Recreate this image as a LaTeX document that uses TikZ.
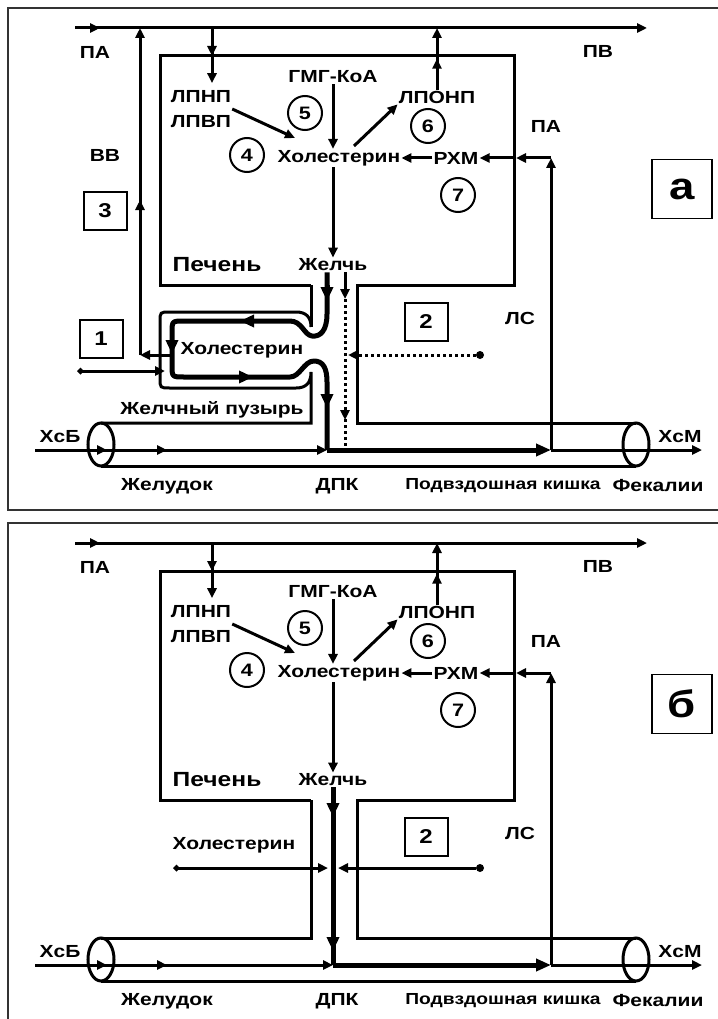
\documentclass[tikz,border=0pt]{standalone}
\usepackage{fontspec}
\setmainfont{Liberation Sans}[FakeStretch=1.2]
\usetikzlibrary{arrows.meta,positioning,decorations.markings}

% common part of both panels (panel coordinates, 1 unit = 1pt)
\newcommand{\liverpanel}[2]{%
  % blood: PA -> PV
  \coordinate (paL) at (75,28);
  \coordinate (paR) at (647,28);
  \draw[arr, midarr=25pt] (paL) -- (paR);
  \node[lbl] (pa) at (95,52) {ПА};
  \node[lbl] (pv) at (598,51) {ПВ};
  % liver and duct walls
  \draw[wall] (311,285) -- (160,285) -- (160,56) -- (514,56) -- (514,285)
    -- (357,285) -- (357,423) -- (636,423);
  \node[lbl, font=\fontsize{20.5}{24}\selectfont\bfseries] (liver) at (217,265) {Печень};
  % inside the liver
  \node[lbl, align=center, font=\fontsize{17.5}{25}\selectfont\bfseries] (ldl) at (201,109) {ЛПНП\\ЛПВП};
  \node[lbl] (hmg) at (333,77) {ГМГ-КоА};
  \node[lbl] (chol) at (339,158) {Холестерин};
  \node[lbl] (vldl) at (437,97) {ЛПОНП};
  \node[lbl] (rxm) at (456,158) {РХМ};
  \node[lbl] (bile) at (333,265) {Желчь};
  \node[num] (c4) at (247,155) {4};
  \node[num] (c5) at (305,113) {5};
  \node[num] (c6) at (428,126) {6};
  \node[num] (c7) at (458,195) {7};
  \coordinate (ldlin) at (212,28);
  \coordinate (cholin) at (295,138);
  \coordinate (cholout) at (354,146);
  \coordinate (vldlout) at (437,28);
  \draw[arr, midarr=28pt] (ldlin) -- ([yshift=6pt]ldlin |- ldl.north);
  \draw[arr] (ldl.east) -- (cholin);
  \draw[arr] (hmg.south) -- (hmg.south |- chol.north);
  \draw[arr] (cholout) -- (vldl.south west);
  \draw[arr, midarr=31pt] (vldl.north) -- (vldlout);
  \draw[arr] (rxm.west) -- (chol.east);
  \draw[arr] (hmg.south |- chol.south) -- (bile.north);
  % PA -> RXM
  \node[lbl] (pa2) at (546,126) {ПА};
  \coordinate (lsdn) at (551,450);
  \coordinate (lsup) at (551,158);
  \coordinate (lvwall) at (516,158);
  \draw[arr] (lsdn) -- (lsup);
  \draw[arr] (lsup) -- (lvwall);
  \draw[arr] (lvwall) -- (rxm.east);
  \node[lbl] (ls) at (520,318) {ЛС};
  \node[box] (n2) at (426,322) {2};
  % gut tube
  \draw[wall] (101,466) -- (636,466);
  \draw[wall] (101,444.5) ellipse [x radius=13pt, y radius=21.5pt];
  \draw[wall] (636,444.5) ellipse [x radius=13pt, y radius=21.5pt];
  \coordinate (xcbin) at (35,450);
  \coordinate (dpkj) at (#1,450);
  \coordinate (xcmout) at (702,450);
  \draw[arr, midarr=72pt, midarr=132pt] (xcbin) -- (dpkj);
  \draw[flow, -{Triangle[length=15pt,width=12pt]}] (dpkj) -- (lsdn);
  \draw[arr] (lsdn) -- (xcmout);
  \node[lbl] (xcb) at (60,437) {ХсБ};
  \node[lbl] (xcm) at (680,437) {ХсМ};
  \node[lbl] (stom) at (167,486) {Желудок};
  \node[lbl] (dpk) at (337,486) {ДПК};
  \node[lbl, font=\fontsize{16}{20}\selectfont\bfseries] (ileum) at (503,486) {Подвздошная кишка};
  \node[lbl] (feces) at (658,486) {Фекалии};
  \node[tagbox] (tag) at (682,189) {#2};
}

\begin{document}
\begin{tikzpicture}[
  x=1pt, y=-1pt,
  wall/.style={line width=3pt},
  arr/.style={wall, -{Triangle[length=10pt,width=9pt]}},
  flow/.style={line width=5pt},
  flowtip/.style={flow, -{Triangle[length=14pt,width=12pt]}},
  dotline/.style={wall, dash pattern=on 3pt off 3pt},
  midarr/.style={postaction={decorate, decoration={markings,
      mark=at position #1 with {\arrow{Triangle[length=10pt,width=9pt]}}}}},
  lbl/.style={font=\fontsize{17.5}{21}\selectfont\bfseries, inner sep=1pt},
  num/.style={draw, circle, line width=2pt, minimum size=34pt, inner sep=0pt,
              font=\fontsize{18}{20}\selectfont\bfseries},
  box/.style={draw, line width=2pt, minimum width=43pt, minimum height=38pt,
              inner sep=0pt, font=\fontsize{20}{22}\selectfont\bfseries},
  tagbox/.style={draw, line width=1.5pt, minimum width=60pt, minimum height=59pt,
                 inner sep=0pt, font=\fontsize{38}{40}\selectfont\bfseries},
  dot/.style={circle, fill, inner sep=0pt, minimum size=8pt},
  frame/.style={line width=1.2pt, black!80}
]
\useasboundingbox (0,0) rectangle (717,1019);

% panel frames
\draw[frame] (8,8) rectangle (730,510);
\draw[frame] (8,523) rectangle (730,1030);

% panel a: with gall bladder
\begin{scope}[name prefix=a-]
\liverpanel{327}{а}
% gall bladder walls
\draw[wall] (311,285) -- (311,327);
\draw[wall] (311,327) .. controls (311,317) and (306,312) .. (296,312)
  -- (170,312) .. controls (160,312) .. (160,322) -- (160,378)
  .. controls (160,388) .. (170,388) -- (296,388)
  .. controls (306,388) and (311,383) .. (311,372) -- (311,423) -- (101,423);
% bile flow through the bladder
\draw[flow, line join=round] ([xshift=-6pt]bile.south) -- (327,314)
  .. controls (327,331) and (320,337) .. (312,336)
  .. controls (304,335) and (302,321) .. (290,321) -- (184,321)
  .. controls (172,321) .. (172,333) -- (172,365)
  .. controls (172,377) .. (184,377) -- (290,377)
  .. controls (300,377) and (304,361) .. (314,361)
  .. controls (323,361) and (327,368) .. (327,382) -- (dpkj);
\draw[flowtip] (327,285) -- (327,301);
\draw[flowtip] (252,321) -- (240,321);
\draw[flowtip] (172,342) -- (172,354);
\draw[flowtip] (240,377) -- (253,377);
\draw[flowtip] (327,396) -- (327,408);
\node[lbl] (gbchol) at (242,350) {Холестерин};
\node[lbl] (gb) at (212,410) {Желчный пузырь};
% cholesterol into and out of the bladder
\coordinate (gbout) at (172,355);
\coordinate (vvlow) at (140,355);
\coordinate (vvtop) at (140,28);
\draw[arr] (gbout) -- (vvlow);
\draw[arr, midarr=155pt] (vvlow) -- (vvtop);
\node[lbl] (vv) at (105,155) {ВВ};
\node[box] (n3) at (105,211) {3};
\node[box] (n1) at (101,339) {1};
\coordinate (gbinS) at (77,371);
\coordinate (gbinE) at (165,371);
\draw[wall, {Diamond[length=7pt,width=7pt]}-{Triangle[length=10pt,width=9pt]}] (gbinS) -- (gbinE);
% dotted pathway
\coordinate (d1) at (345,299);
\coordinate (d2) at (345,450);
\coordinate (d3) at (348,355);
\draw[arr] ([xshift=12pt]bile.south) -- (d1);
\draw[dotline, midarr=121pt] (d1) -- (d2);
\node[dot] (src) at (480,355) {};
\draw[dotline, -{Triangle[length=10pt,width=9pt]}] (src) -- (d3);
\end{scope}

% panel b: no gall bladder
\begin{scope}[shift={(0,515)}, name prefix=b-]
\liverpanel{333}{б}
\draw[wall] (311,285) -- (311,423) -- (101,423);
\draw[flow] (bile.south) -- (dpkj);
\draw[flowtip] (333,286) -- (333,302);
\draw[flowtip] (333,420) -- (333,436);
\node[lbl] (chol2) at (234,330) {Холестерин};
\coordinate (l1) at (173,353);
\coordinate (l2) at (328,353);
\coordinate (r2) at (338,353);
\draw[wall, {Diamond[length=7pt,width=7pt]}-{Triangle[length=10pt,width=9pt]}] (l1) -- (l2);
\node[dot] (src) at (480,353) {};
\draw[arr] (src) -- (r2);
\end{scope}

\end{tikzpicture}
\end{document}
